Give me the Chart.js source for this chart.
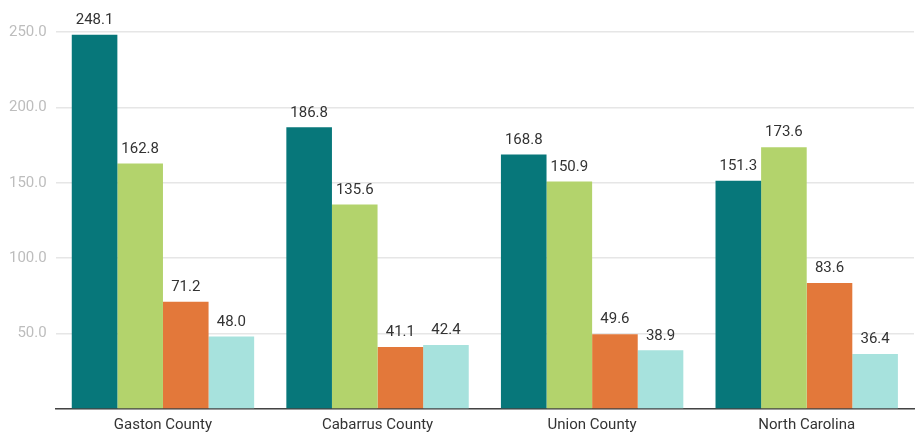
<!DOCTYPE html>
<html lang="en">
<head>
    <meta charset="UTF-8">
    <script src="https://cdn.jsdelivr.net/npm/chart.js@4.4.1/dist/chart.umd.min.js"></script>
    <title>Chart</title>
    <style>
        body { margin: 0; background: #fff; }
        #wrap { width: 918px; height: 434px; }
    </style>
</head>
<body>
<div id="wrap"><canvas id="myChart" width="918" height="434"></canvas></div>

<script>
    // categories and series
    const places = ['Gaston County', 'Cabarrus County', 'Union County', 'North Carolina'];
    const series1 = [248.1, 186.8, 168.8, 151.3];
    const series2 = [162.8, 135.6, 150.9, 173.6];
    const series3 = [71.2, 41.1, 49.6, 83.6];
    const series4 = [48.0, 42.4, 38.9, 36.4];
    const yTicks = [0, 50, 100, 150, 200, 250];

    const colors = ['#07777A', '#B3D36C', '#E3783A', '#A7E2DD'];

    // draws the number above each bar
    const valueLabels = {
        id: 'valueLabels',
        afterDatasetsDraw(chart) {
            const ctx = chart.ctx;
            ctx.save();
            ctx.font = '15px Roboto';
            ctx.fillStyle = '#333';
            ctx.textAlign = 'center';
            ctx.textBaseline = 'bottom';
            chart.data.datasets.forEach((ds, i) => {
                chart.getDatasetMeta(i).data.forEach((bar, j) => {
                    ctx.fillText(ds.data[j].toFixed(1), bar.x, bar.y - 7);
                });
            });
            ctx.restore();
        }
    };

    const ctx = document.getElementById('myChart').getContext('2d');
    const myChart = new Chart(ctx, {
        type: 'bar',
        data: {
            labels: places,
            datasets: [series1, series2, series3, series4].map((d, i) => ({
                data: d,
                backgroundColor: colors[i],
                borderWidth: 0,
                categoryPercentage: 0.85,
                barPercentage: 1.0
            }))
        },
        options: {
            responsive: false,
            animation: false,
            layout: { padding: { top: 32, left: 0, right: 4, bottom: -7 } },
            plugins: { legend: { display: false }, tooltip: { enabled: false } },
            scales: {
                x: {
                    grid: { display: false, drawTicks: false },
                    border: { display: true, color: '#444', width: 1.5 },
                    ticks: { color: '#333', font: { family: 'Roboto', size: 15 }, padding: 7 }
                },
                y: {
                    min: 0,
                    max: 250,
                    afterBuildTicks: axis => { axis.ticks = yTicks.map(v => ({ value: v })); },
                    grid: { color: '#e6e6e6', lineWidth: 1.5, drawTicks: false },
                    border: { display: false },
                    ticks: {
                        color: '#bdbdbd',
                        font: { family: 'Roboto', size: 15 },
                        padding: 9,
                        callback: v => v === 0 ? '' : v.toFixed(1)
                    }
                }
            }
        },
        plugins: [valueLabels]
    });
</script>
</body>
</html>
